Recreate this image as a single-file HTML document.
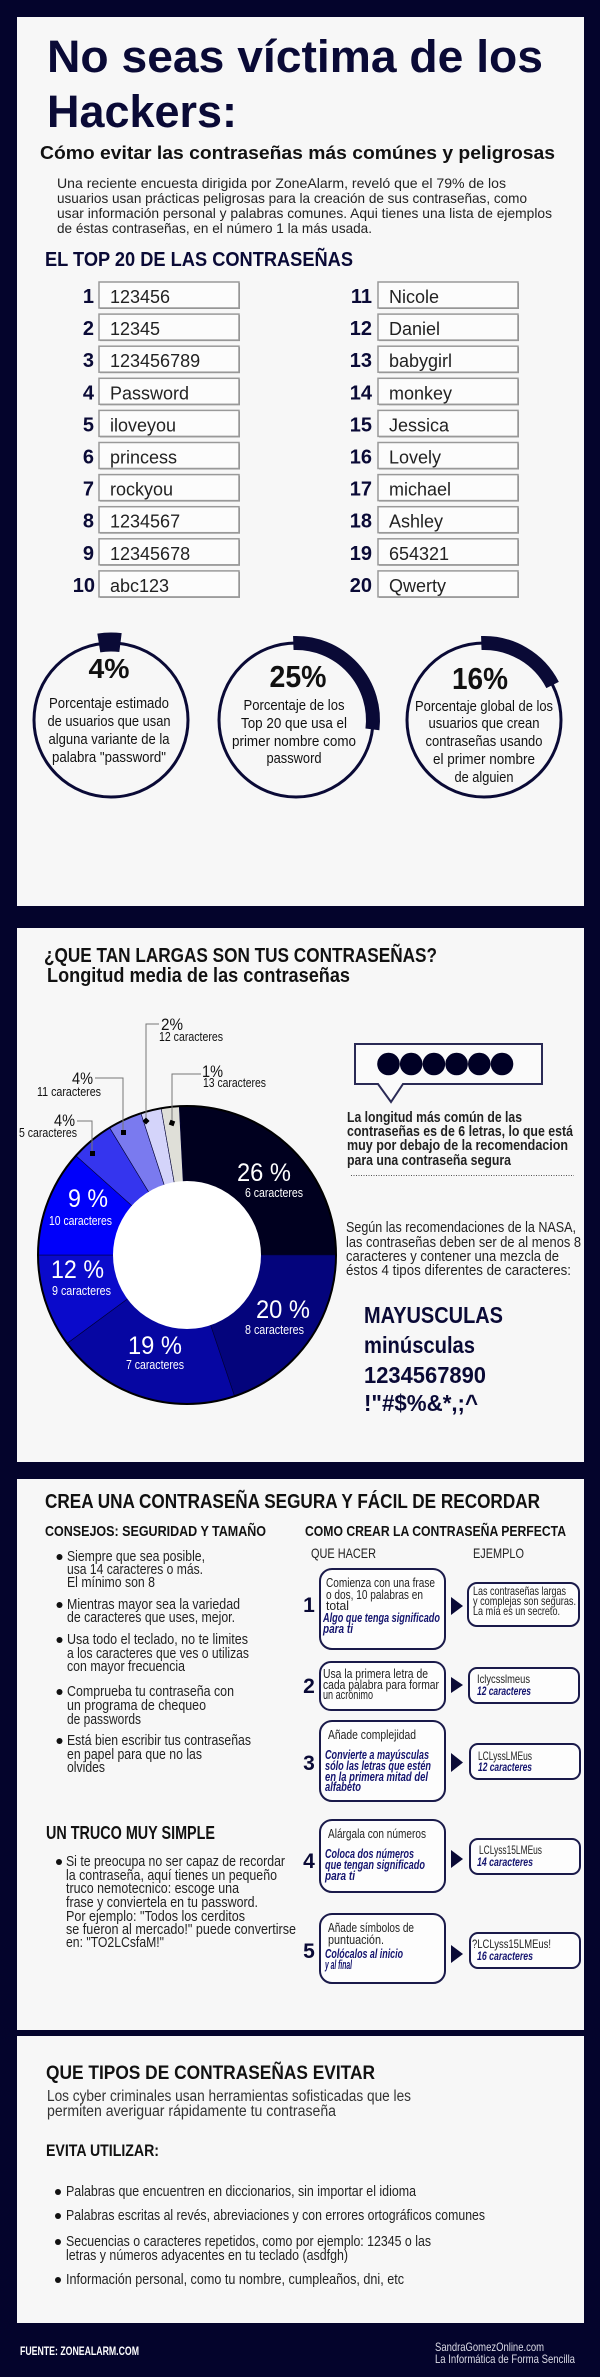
<!DOCTYPE html>
<html><head><meta charset="utf-8"><style>
html,body{margin:0;padding:0;background:#04042c;}
svg{display:block;}
text{font-family:"Liberation Sans",Arial,sans-serif;}
</style></head><body>
<svg width="600" height="2377" viewBox="0 0 600 2377" xmlns="http://www.w3.org/2000/svg">
<rect x="0" y="0" width="600" height="2377" fill="#04042c"/>
<rect x="17" y="17" width="567" height="889" fill="#f7f7f7"/>
<rect x="17" y="928" width="567" height="534" fill="#f7f7f7"/>
<rect x="17" y="1479" width="567" height="551" fill="#f7f7f7"/>
<rect x="17" y="2036" width="567" height="287" fill="#f7f7f7"/>

<!-- Title -->
<g fill="#0a0a36" font-weight="bold">
<text x="47" y="72" font-size="45" textLength="496" lengthAdjust="spacingAndGlyphs">No seas víctima de los</text>
<text x="47" y="127" font-size="45" textLength="190" lengthAdjust="spacingAndGlyphs">Hackers:</text>
</g>
<text x="40" y="159" font-size="18" font-weight="bold" fill="#111" textLength="515" lengthAdjust="spacingAndGlyphs">Cómo evitar las contraseñas más comúnes y peligrosas</text>
<g fill="#222" font-size="14">
<text x="57" y="188" textLength="449" lengthAdjust="spacingAndGlyphs">Una  reciente encuesta dirigida por ZoneAlarm,  reveló que el  79% de los</text>
<text x="57" y="203" textLength="470" lengthAdjust="spacingAndGlyphs">usuarios usan prácticas peligrosas para la creación de sus contraseñas, como</text>
<text x="57" y="218" textLength="495" lengthAdjust="spacingAndGlyphs">usar información personal y palabras comunes. Aqui tienes una lista de ejemplos</text>
<text x="57" y="233" textLength="315" lengthAdjust="spacingAndGlyphs">de éstas contraseñas, en el número 1 la más usada.</text>
</g>
<text x="45" y="266" font-size="20" font-weight="bold" fill="#0a0a36" textLength="308" lengthAdjust="spacingAndGlyphs">EL TOP 20 DE LAS CONTRASEÑAS</text>

<!-- Top 20 list -->
<defs>
<g id="bx">
<rect x="1" y="1" width="140" height="26" fill="#8c8c8c"/>
<rect x="0" y="0" width="140" height="26" fill="#fcfcfc" stroke="#999" stroke-width="1.5"/>
</g>
</defs>
<g font-size="18" fill="#222">
<g transform="translate(0,282)"><use href="#bx" x="99"/><use href="#bx" x="378"/><text x="110" y="21">123456</text><text x="389" y="21">Nicole</text></g>
<g transform="translate(0,314.1)"><use href="#bx" x="99"/><use href="#bx" x="378"/><text x="110" y="21">12345</text><text x="389" y="21">Daniel</text></g>
<g transform="translate(0,346.2)"><use href="#bx" x="99"/><use href="#bx" x="378"/><text x="110" y="21">123456789</text><text x="389" y="21">babygirl</text></g>
<g transform="translate(0,378.3)"><use href="#bx" x="99"/><use href="#bx" x="378"/><text x="110" y="21">Password</text><text x="389" y="21">monkey</text></g>
<g transform="translate(0,410.4)"><use href="#bx" x="99"/><use href="#bx" x="378"/><text x="110" y="21">iloveyou</text><text x="389" y="21">Jessica</text></g>
<g transform="translate(0,442.5)"><use href="#bx" x="99"/><use href="#bx" x="378"/><text x="110" y="21">princess</text><text x="389" y="21">Lovely</text></g>
<g transform="translate(0,474.6)"><use href="#bx" x="99"/><use href="#bx" x="378"/><text x="110" y="21">rockyou</text><text x="389" y="21">michael</text></g>
<g transform="translate(0,506.7)"><use href="#bx" x="99"/><use href="#bx" x="378"/><text x="110" y="21">1234567</text><text x="389" y="21">Ashley</text></g>
<g transform="translate(0,538.8)"><use href="#bx" x="99"/><use href="#bx" x="378"/><text x="110" y="21">12345678</text><text x="389" y="21">654321</text></g>
<g transform="translate(0,570.9)"><use href="#bx" x="99"/><use href="#bx" x="378"/><text x="110" y="21">abc123</text><text x="389" y="21">Qwerty</text></g>
</g>
<g font-size="20" font-weight="bold" fill="#0a0a36" text-anchor="end">
<text x="94" y="303">1</text><text x="94" y="335.1">2</text><text x="94" y="367.2">3</text><text x="94" y="399.3">4</text><text x="94" y="431.4">5</text><text x="94" y="463.5">6</text><text x="94" y="495.6">7</text><text x="94" y="527.7">8</text><text x="94" y="559.8">9</text><text x="95" y="591.9">10</text>
<text x="372" y="303">11</text><text x="372" y="335.1">12</text><text x="372" y="367.2">13</text><text x="372" y="399.3">14</text><text x="372" y="431.4">15</text><text x="372" y="463.5">16</text><text x="372" y="495.6">17</text><text x="372" y="527.7">18</text><text x="372" y="559.8">19</text><text x="372" y="591.9">20</text>
</g>

<!-- Circles -->
<g fill="none" stroke="#0a0a36">
<circle cx="111" cy="720" r="77" stroke-width="3"/>
<circle cx="296" cy="720" r="77" stroke-width="3"/>
<circle cx="484" cy="720" r="77" stroke-width="3"/>
<path d="M98.8,642.96 A78,78 0 0 1 120.5,642.6" stroke-width="19"/>
<path d="M293.3,643.05 A77,77 0 0 1 372.4,729.4" stroke-width="14"/>
<path d="M481.3,643.05 A77,77 0 0 1 552.6,685.0" stroke-width="14"/>
</g>
<g font-weight="bold" fill="#111" text-anchor="middle">
<text x="109" y="678" font-size="28" textLength="41" lengthAdjust="spacingAndGlyphs">4%</text>
<text x="298" y="687" font-size="31" textLength="57" lengthAdjust="spacingAndGlyphs">25%</text>
<text x="480" y="689" font-size="31" textLength="56" lengthAdjust="spacingAndGlyphs">16%</text>
</g>
<g font-size="15" fill="#111" text-anchor="middle">
<text x="109" y="708" textLength="120" lengthAdjust="spacingAndGlyphs">Porcentaje estimado</text>
<text x="109" y="726" textLength="123" lengthAdjust="spacingAndGlyphs">de usuarios que usan</text>
<text x="109" y="744" textLength="121" lengthAdjust="spacingAndGlyphs">alguna variante de la</text>
<text x="109" y="762" textLength="114" lengthAdjust="spacingAndGlyphs">palabra "password"</text>
<text x="294" y="710" textLength="101" lengthAdjust="spacingAndGlyphs">Porcentaje de los</text>
<text x="294" y="728" textLength="106" lengthAdjust="spacingAndGlyphs">Top 20  que usa el</text>
<text x="294" y="746" textLength="124" lengthAdjust="spacingAndGlyphs">primer nombre como</text>
<text x="294" y="763" textLength="55" lengthAdjust="spacingAndGlyphs">password</text>
<text x="484" y="711" textLength="138" lengthAdjust="spacingAndGlyphs">Porcentaje global de los</text>
<text x="484" y="728" textLength="111" lengthAdjust="spacingAndGlyphs">usuarios que crean</text>
<text x="484" y="746" textLength="117" lengthAdjust="spacingAndGlyphs">contraseñas usando</text>
<text x="484" y="764" textLength="102" lengthAdjust="spacingAndGlyphs">el primer nombre</text>
<text x="484" y="782" textLength="59" lengthAdjust="spacingAndGlyphs">de alguien</text>
</g>

<!-- Panel 2 -->
<g font-weight="bold" fill="#111" font-size="20">
<text x="44" y="962" textLength="393" lengthAdjust="spacingAndGlyphs">¿QUE TAN LARGAS SON TUS CONTRASEÑAS?</text>
<text x="47" y="982" textLength="303" lengthAdjust="spacingAndGlyphs">Longitud media de las contraseñas</text>
</g>

<!-- Donut -->
<g stroke="#000033" stroke-width="0.6">
<path d="M187,1255 L179.21,1106.21 A149,149 0 0 1 336,1255 Z" fill="#00001f"/>
<path d="M187,1255 L336,1255 A149,149 0 0 1 234.53,1396.22 Z" fill="#04047c"/>
<path d="M187,1255 L234.53,1396.22 A149,149 0 0 1 67.07,1343.42 Z" fill="#0606a2"/>
<path d="M187,1255 L67.07,1343.42 A149,149 0 0 1 38,1255 Z" fill="#0a0acb"/>
<path d="M187,1255 L38,1255 A149,149 0 0 1 75.92,1155.69 Z" fill="#0000fa"/>
<path d="M187,1255 L75.92,1155.69 A149,149 0 0 1 109.59,1127.68 Z" fill="#3535ee"/>
<path d="M187,1255 L109.59,1127.68 A149,149 0 0 1 140.96,1113.29 Z" fill="#7a7aef"/>
<path d="M187,1255 L140.96,1113.29 A149,149 0 0 1 161.13,1108.26 Z" fill="#d4d4fa"/>
<path d="M187,1255 L161.13,1108.26 A149,149 0 0 1 179.21,1106.21 Z" fill="#dfdfd8"/>
</g>
<circle cx="187" cy="1255" r="149" fill="none" stroke="#000" stroke-width="2"/>
<circle cx="187" cy="1255" r="74" fill="#ffffff"/>
<g fill="#fff" text-anchor="middle">
<text x="264" y="1181" font-size="25" textLength="54" lengthAdjust="spacingAndGlyphs">26 %</text>
<text x="274" y="1197" font-size="12.5" textLength="58" lengthAdjust="spacingAndGlyphs">6 caracteres</text>
<text x="88" y="1207" font-size="25" textLength="40" lengthAdjust="spacingAndGlyphs">9 %</text>
<text x="80.5" y="1225" font-size="12.5" textLength="63" lengthAdjust="spacingAndGlyphs">10 caracteres</text>
<text x="77.5" y="1278" font-size="25" textLength="53" lengthAdjust="spacingAndGlyphs">12 %</text>
<text x="81.5" y="1295" font-size="12.5" textLength="59" lengthAdjust="spacingAndGlyphs">9 caracteres</text>
<text x="283" y="1318" font-size="25" textLength="54" lengthAdjust="spacingAndGlyphs">20 %</text>
<text x="274.5" y="1334" font-size="12.5" textLength="59" lengthAdjust="spacingAndGlyphs">8 caracteres</text>
<text x="155" y="1354" font-size="25" textLength="54" lengthAdjust="spacingAndGlyphs">19 %</text>
<text x="155" y="1369" font-size="12.5" textLength="58" lengthAdjust="spacingAndGlyphs">7 caracteres</text>
</g>
<!-- leaders -->
<g fill="none" stroke="#777" stroke-width="1">
<polyline points="77,1121 92,1121 92,1153"/>
<polyline points="95,1078 123,1078 123,1132"/>
<polyline points="159,1024 146,1024 146,1121"/>
<polyline points="201,1074 172,1074 172,1123"/>
</g>
<g fill="#000">
<rect x="90" y="1151" width="5" height="5"/>
<rect x="121" y="1130" width="5" height="5"/>
<rect x="143.5" y="1118.5" width="5" height="5" transform="rotate(45 146 1121)"/>
<rect x="169.5" y="1120.5" width="5" height="5" transform="rotate(20 172 1123)"/>
</g>
<g fill="#111">
<text x="54" y="1126" font-size="17" textLength="21" lengthAdjust="spacingAndGlyphs">4%</text>
<text x="19" y="1137" font-size="12.5" textLength="58" lengthAdjust="spacingAndGlyphs">5 caracteres</text>
<text x="72" y="1084" font-size="17" textLength="21" lengthAdjust="spacingAndGlyphs">4%</text>
<text x="37" y="1096" font-size="12.5" textLength="64" lengthAdjust="spacingAndGlyphs">11 caracteres</text>
<text x="161" y="1030" font-size="17" textLength="22" lengthAdjust="spacingAndGlyphs">2%</text>
<text x="159" y="1041" font-size="12.5" textLength="64" lengthAdjust="spacingAndGlyphs">12 caracteres</text>
<text x="202" y="1077" font-size="17" textLength="21" lengthAdjust="spacingAndGlyphs">1%</text>
<text x="203" y="1087" font-size="12.5" textLength="63" lengthAdjust="spacingAndGlyphs">13 caracteres</text>
</g>

<!-- bubble -->
<path d="M355,1044 H542 V1084 H403 L391,1102 L378,1084 H355 Z" fill="#fafafa" stroke="#2a2a55" stroke-width="2"/>
<g fill="#000025">
<circle cx="388.5" cy="1064" r="11.3"/><circle cx="411.2" cy="1064" r="11.3"/><circle cx="433.9" cy="1064" r="11.3"/><circle cx="456.6" cy="1064" r="11.3"/><circle cx="479.3" cy="1064" r="11.3"/><circle cx="502" cy="1064" r="11.3"/>
</g>
<g font-size="15" font-weight="bold" fill="#222">
<text x="347" y="1122" textLength="175" lengthAdjust="spacingAndGlyphs">La longitud más común de las</text>
<text x="347" y="1136" textLength="226" lengthAdjust="spacingAndGlyphs">contraseñas es de 6 letras, lo que está</text>
<text x="347" y="1150" textLength="221" lengthAdjust="spacingAndGlyphs">muy por debajo de la recomendacion</text>
<text x="347" y="1165" textLength="164" lengthAdjust="spacingAndGlyphs">para una contraseña segura</text>
</g>
<line x1="351" y1="1175.5" x2="574" y2="1175.5" stroke="#555" stroke-width="1" stroke-dasharray="1,1.5"/>
<g font-size="15" fill="#222">
<text x="346" y="1232" textLength="230" lengthAdjust="spacingAndGlyphs">Según las recomendaciones de la NASA,</text>
<text x="346" y="1247" textLength="235" lengthAdjust="spacingAndGlyphs">las contraseñas deben ser de al menos 8</text>
<text x="346" y="1261" textLength="213" lengthAdjust="spacingAndGlyphs">caracteres y contener una mezcla de</text>
<text x="346" y="1275" textLength="225" lengthAdjust="spacingAndGlyphs">éstos 4 tipos diferentes de  caracteres:</text>
</g>
<g font-size="23" font-weight="bold" fill="#0a0a36">
<text x="364" y="1323" textLength="139" lengthAdjust="spacingAndGlyphs">MAYUSCULAS</text>
<text x="364" y="1353" textLength="111" lengthAdjust="spacingAndGlyphs">minúsculas</text>
<text x="364" y="1383" textLength="122" lengthAdjust="spacingAndGlyphs">1234567890</text>
<text x="364" y="1411" textLength="114" lengthAdjust="spacingAndGlyphs">!"#$%&amp;*,;^</text>
</g>

<!-- Panel 3 -->
<text x="45" y="1508" font-size="20" font-weight="bold" fill="#111" textLength="495" lengthAdjust="spacingAndGlyphs">CREA UNA CONTRASEÑA SEGURA Y FÁCIL DE RECORDAR</text>
<g font-size="15" font-weight="bold" fill="#111">
<text x="45" y="1536" textLength="221" lengthAdjust="spacingAndGlyphs">CONSEJOS: SEGURIDAD Y TAMAÑO</text>
<text x="305" y="1536" textLength="261" lengthAdjust="spacingAndGlyphs">COMO CREAR LA CONTRASEÑA PERFECTA</text>
</g>
<g font-size="14" fill="#222">
<text x="311" y="1558" textLength="65" lengthAdjust="spacingAndGlyphs">QUE HACER</text>
<text x="473" y="1558" textLength="51" lengthAdjust="spacingAndGlyphs">EJEMPLO</text>
</g>
<g fill="#111">
<circle cx="59.5" cy="1557" r="3"/><circle cx="59.5" cy="1605" r="3"/><circle cx="59.5" cy="1640" r="3"/><circle cx="59.5" cy="1692" r="3"/><circle cx="59.5" cy="1741" r="3"/>
<circle cx="59" cy="1862" r="3"/>
</g>
<g font-size="15" fill="#222">
<text x="67" y="1561" textLength="138" lengthAdjust="spacingAndGlyphs">Siempre que sea posible,</text>
<text x="67" y="1574" textLength="136" lengthAdjust="spacingAndGlyphs">usa 14 caracteres o más.</text>
<text x="67" y="1587" textLength="88" lengthAdjust="spacingAndGlyphs">El mínimo son 8</text>
<text x="67" y="1609" textLength="173" lengthAdjust="spacingAndGlyphs">Mientras mayor sea la variedad</text>
<text x="67" y="1622" textLength="168" lengthAdjust="spacingAndGlyphs">de caracteres que uses, mejor.</text>
<text x="67" y="1644" textLength="181" lengthAdjust="spacingAndGlyphs">Usa todo el teclado, no te limites</text>
<text x="67" y="1658" textLength="182" lengthAdjust="spacingAndGlyphs">a los caracteres que ves o utilizas</text>
<text x="67" y="1671" textLength="118" lengthAdjust="spacingAndGlyphs">con mayor frecuencia</text>
<text x="67" y="1696" textLength="167" lengthAdjust="spacingAndGlyphs">Comprueba tu contraseña con</text>
<text x="67" y="1710" textLength="139" lengthAdjust="spacingAndGlyphs">un programa de chequeo</text>
<text x="67" y="1724" textLength="74" lengthAdjust="spacingAndGlyphs">de passwords</text>
<text x="67" y="1745" textLength="184" lengthAdjust="spacingAndGlyphs">Está bien escribir tus contraseñas</text>
<text x="67" y="1759" textLength="135" lengthAdjust="spacingAndGlyphs">en papel para que no las</text>
<text x="67" y="1772" textLength="38" lengthAdjust="spacingAndGlyphs">olvides</text>
</g>
<text x="46" y="1839" font-size="18" font-weight="bold" fill="#111" textLength="169" lengthAdjust="spacingAndGlyphs">UN TRUCO MUY SIMPLE</text>
<g font-size="15" fill="#222">
<text x="66" y="1866" textLength="219" lengthAdjust="spacingAndGlyphs">Si te preocupa no ser capaz de recordar</text>
<text x="66" y="1880" textLength="211" lengthAdjust="spacingAndGlyphs">la contraseña, aquí tienes un pequeño</text>
<text x="66" y="1893" textLength="173" lengthAdjust="spacingAndGlyphs">truco nemotecnico: escoge una</text>
<text x="66" y="1907" textLength="192" lengthAdjust="spacingAndGlyphs">frase y conviertela en tu password.</text>
<text x="66" y="1921" textLength="179" lengthAdjust="spacingAndGlyphs">Por ejemplo: "Todos los cerditos</text>
<text x="66" y="1934" textLength="230" lengthAdjust="spacingAndGlyphs">se fueron al mercado!" puede convertirse</text>
<text x="66" y="1947" textLength="98" lengthAdjust="spacingAndGlyphs">en: "TO2LCsfaM!"</text>
</g>

<!-- steps -->
<g fill="#fdfdfd" stroke="#1a1a4a" stroke-width="2">
<rect x="320" y="1569" width="125" height="80" rx="12"/>
<rect x="320" y="1662" width="125" height="48" rx="11"/>
<rect x="320" y="1721" width="125" height="80" rx="12"/>
<rect x="320" y="1820" width="125" height="72" rx="12"/>
<rect x="320" y="1914" width="125" height="69" rx="12"/>
<rect x="468" y="1583" width="111" height="43" rx="9"/>
<rect x="469" y="1668" width="110" height="35" rx="8"/>
<rect x="470" y="1744" width="110" height="35" rx="8"/>
<rect x="470" y="1839" width="110" height="35" rx="8"/>
<rect x="470" y="1933" width="110" height="35" rx="8"/>
</g>
<g fill="#0a0a36">
<polygon points="451,1597 463,1606 451,1615"/>
<polygon points="451,1677 463,1685 451,1693"/>
<polygon points="451,1753 463,1762.5 451,1772"/>
<polygon points="451,1850 463,1859 451,1868"/>
<polygon points="451,1945 463,1954 451,1963"/>
</g>
<g font-size="21" font-weight="bold" fill="#0a0a36" text-anchor="middle">
<text x="309" y="1612">1</text>
<text x="309" y="1693">2</text>
<text x="309" y="1770">3</text>
<text x="309" y="1868">4</text>
<text x="309" y="1958">5</text>
</g>
<g font-size="13" fill="#222">
<text x="326" y="1587" textLength="109" lengthAdjust="spacingAndGlyphs">Comienza con una frase</text>
<text x="326" y="1599" textLength="97" lengthAdjust="spacingAndGlyphs">o dos, 10 palabras en</text>
<text x="326" y="1610" textLength="23" lengthAdjust="spacingAndGlyphs">total</text>
<text x="323" y="1678" textLength="105" lengthAdjust="spacingAndGlyphs">Usa la primera letra de</text>
<text x="323" y="1689" textLength="116" lengthAdjust="spacingAndGlyphs">cada palabra para formar</text>
<text x="323" y="1699" textLength="50" lengthAdjust="spacingAndGlyphs">un acrónimo</text>
<text x="328" y="1739" textLength="88" lengthAdjust="spacingAndGlyphs">Añade complejidad</text>
<text x="328" y="1838" textLength="98" lengthAdjust="spacingAndGlyphs">Alárgala con números</text>
<text x="328" y="1932" textLength="86" lengthAdjust="spacingAndGlyphs">Añade símbolos de</text>
<text x="328" y="1944" textLength="56" lengthAdjust="spacingAndGlyphs">puntuación.</text>
</g>
<g font-size="13" font-weight="bold" font-style="italic" fill="#14146e">
<text x="323" y="1622" textLength="117" lengthAdjust="spacingAndGlyphs">Algo que tenga significado</text>
<text x="323" y="1633" textLength="30" lengthAdjust="spacingAndGlyphs">para ti</text>
<text x="325" y="1759" textLength="104" lengthAdjust="spacingAndGlyphs">Convierte a mayúsculas</text>
<text x="325" y="1770" textLength="106" lengthAdjust="spacingAndGlyphs">sólo las letras que estén</text>
<text x="325" y="1781" textLength="103" lengthAdjust="spacingAndGlyphs">en la primera mitad del</text>
<text x="325" y="1791" textLength="36" lengthAdjust="spacingAndGlyphs">alfabeto</text>
<text x="325" y="1858" textLength="89" lengthAdjust="spacingAndGlyphs">Coloca dos números</text>
<text x="325" y="1869" textLength="100" lengthAdjust="spacingAndGlyphs">que tengan significado</text>
<text x="325" y="1880" textLength="30" lengthAdjust="spacingAndGlyphs">para ti</text>
<text x="325" y="1958" textLength="78" lengthAdjust="spacingAndGlyphs">Colócalos al inicio</text>
<text x="325" y="1969" textLength="27" lengthAdjust="spacingAndGlyphs">y al final</text>
</g>
<g font-size="12" fill="#222">
<text x="473" y="1595" textLength="93" lengthAdjust="spacingAndGlyphs">Las contraseñas largas</text>
<text x="473" y="1605" textLength="103" lengthAdjust="spacingAndGlyphs">y complejas son seguras.</text>
<text x="473" y="1615" textLength="87" lengthAdjust="spacingAndGlyphs">La mía es un secreto.</text>
<text x="477" y="1683" textLength="53" lengthAdjust="spacingAndGlyphs">Iclycsslmeus</text>
<text x="478" y="1760" textLength="54" lengthAdjust="spacingAndGlyphs">LCLyssLMEus</text>
<text x="479" y="1854" textLength="63" lengthAdjust="spacingAndGlyphs">LCLyss15LMEus</text>
<text x="472" y="1948" textLength="79" lengthAdjust="spacingAndGlyphs">?LCLyss15LMEus!</text>
</g>
<g font-size="12" font-weight="bold" font-style="italic" fill="#14146e">
<text x="477" y="1695" textLength="54" lengthAdjust="spacingAndGlyphs">12 caracteres</text>
<text x="478" y="1771" textLength="54" lengthAdjust="spacingAndGlyphs">12 caracteres</text>
<text x="477" y="1866" textLength="56" lengthAdjust="spacingAndGlyphs">14 caracteres</text>
<text x="477" y="1960" textLength="56" lengthAdjust="spacingAndGlyphs">16 caracteres</text>
</g>

<!-- Panel 4 -->
<text x="46" y="2079" font-size="19" font-weight="bold" fill="#111" textLength="329" lengthAdjust="spacingAndGlyphs">QUE TIPOS DE CONTRASEÑAS EVITAR</text>
<g font-size="15.5" fill="#333">
<text x="47" y="2101" textLength="364" lengthAdjust="spacingAndGlyphs">Los cyber criminales usan herramientas sofisticadas que les</text>
<text x="47" y="2116" textLength="289" lengthAdjust="spacingAndGlyphs">permiten averiguar rápidamente tu contraseña</text>
</g>
<text x="46" y="2156" font-size="17" font-weight="bold" fill="#111" textLength="113" lengthAdjust="spacingAndGlyphs">EVITA UTILIZAR:</text>
<g fill="#111">
<circle cx="58" cy="2192" r="3"/><circle cx="58" cy="2216" r="3"/><circle cx="58" cy="2242" r="3"/><circle cx="58" cy="2280" r="3"/>
</g>
<g font-size="14.5" fill="#222">
<text x="66" y="2196" textLength="350" lengthAdjust="spacingAndGlyphs">Palabras que encuentren en diccionarios, sin importar el idioma</text>
<text x="66" y="2220" textLength="419" lengthAdjust="spacingAndGlyphs">Palabras escritas al revés, abreviaciones y con errores ortográficos comunes</text>
<text x="66" y="2246" textLength="365" lengthAdjust="spacingAndGlyphs">Secuencias o caracteres repetidos, como por ejemplo: 12345 o las</text>
<text x="66" y="2260" textLength="282" lengthAdjust="spacingAndGlyphs">letras y números adyacentes en tu teclado (asdfgh)</text>
<text x="66" y="2284" textLength="338" lengthAdjust="spacingAndGlyphs">Información personal, como tu nombre, cumpleaños, dni, etc</text>
</g>

<!-- Footer -->
<text x="20" y="2355" font-size="12" font-weight="bold" fill="#fff" textLength="119" lengthAdjust="spacingAndGlyphs">FUENTE: ZONEALARM.COM</text>
<g font-size="12" fill="#dcdce6">
<text x="435" y="2351" textLength="109" lengthAdjust="spacingAndGlyphs">SandraGomezOnline.com</text>
<text x="435" y="2363" textLength="140" lengthAdjust="spacingAndGlyphs">La Informática de Forma Sencilla</text>
</g>
</svg>
</body></html>
